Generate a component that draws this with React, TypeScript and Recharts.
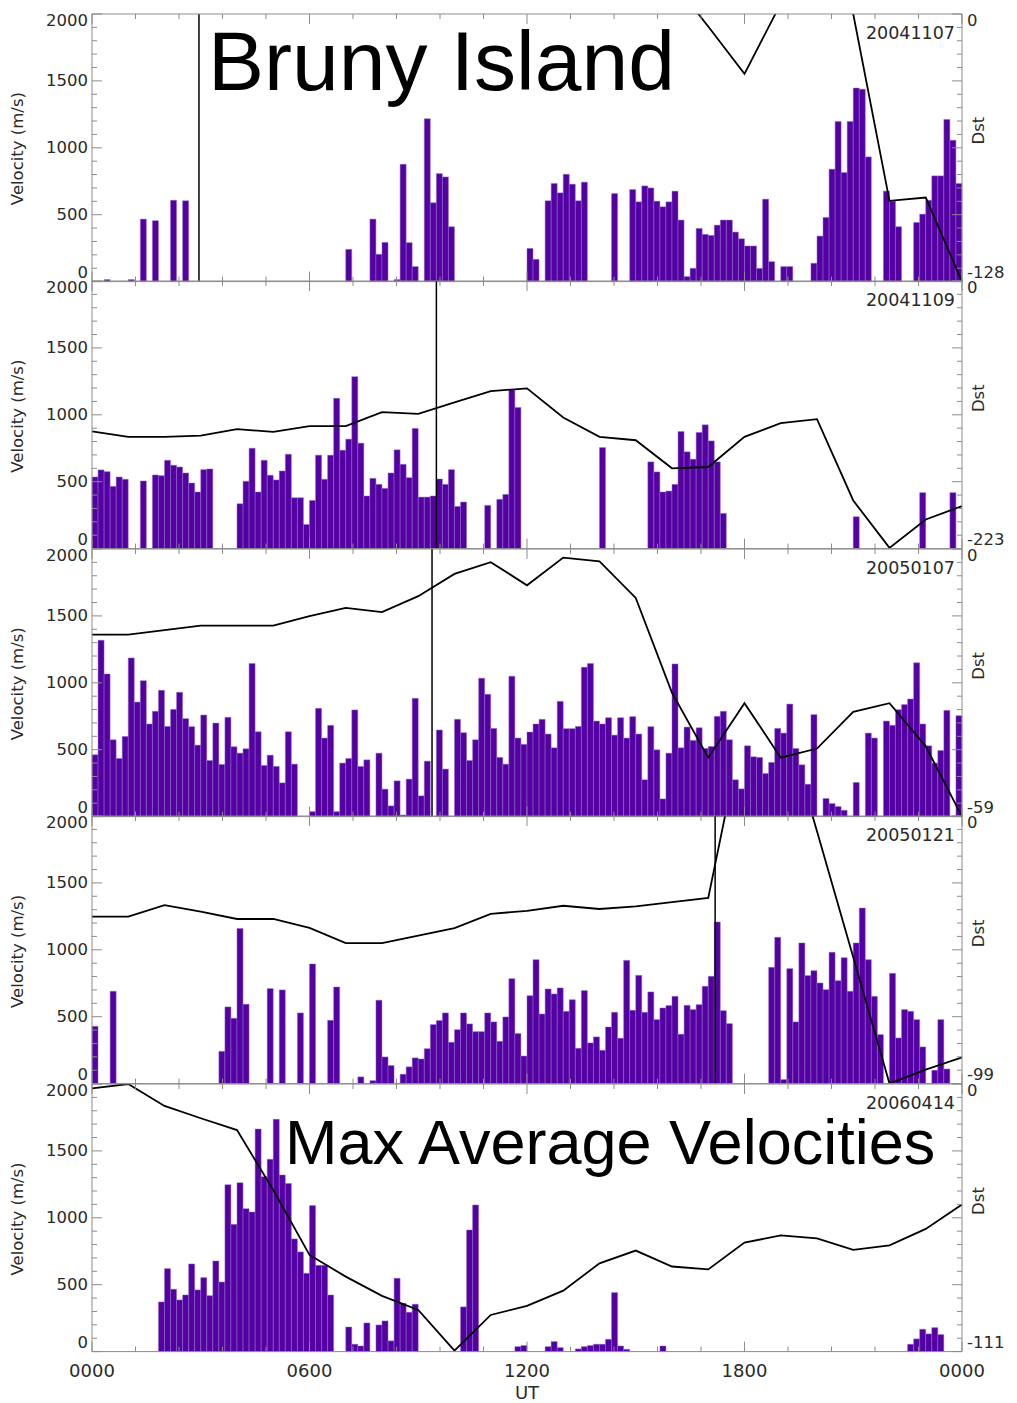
import { ComposedChart, Bar, Line, XAxis, YAxis, ReferenceLine } from 'recharts';

// centre of each 10-minute bin (UT hours) and the hourly Dst times
const binHours = Array.from({ length: 144 }, (_, i) => (i + 0.5) / 6);
const dstHours = Array.from({ length: 25 }, (_, i) => i);

const dates = ['20041107', '20041109', '20050107', '20050121', '20060414'];
const dstFloor = [-128, -223, -59, -99, -111];
const eventUT: (number | null)[] = [2.95, 9.5, 9.38, 17.19, null];
const xTickLabels = ['0000', '0600', '1200', '1800', '0000'];

// max average velocity per 10 minute bin (m/s), 0 = no data
const vel20041107 = [
  0, 0, 15, 0, 0, 0, 15, 0, 467, 0, 455, 0,
  0, 608, 0, 604, 0, 0, 0, 0, 0, 0, 0, 0,
  0, 0, 0, 0, 0, 0, 0, 0, 0, 0, 0, 0,
  0, 0, 0, 0, 0, 0, 241, 0, 0, 0, 467, 204,
  293, 0, 15, 877, 291, 112, 0, 1217, 589, 807, 782, 410,
  0, 0, 0, 0, 0, 0, 0, 0, 0, 0, 0, 0,
  248, 166, 0, 604, 733, 663, 802, 728, 604, 743, 0, 0,
  0, 0, 658, 0, 0, 688, 596, 715, 700, 601, 559, 596,
  676, 460, 37, 99, 397, 353, 345, 422, 460, 460, 370, 320,
  266, 266, 99, 616, 149, 0, 112, 112, 0, 0, 0, 137,
  340, 479, 840, 1197, 815, 1197, 1446, 1438, 932, 0, 0, 676,
  601, 410, 0, 0, 442, 504, 608, 790, 790, 1212, 1056, 733,
];
const vel20041109 = [
  535, 588, 575, 465, 535, 518, 0, 0, 505, 0, 550, 545,
  660, 623, 610, 565, 490, 423, 590, 595, 0, 0, 0, 0,
  335, 503, 750, 423, 660, 548, 513, 580, 705, 380, 380, 180,
  360, 698, 518, 698, 1123, 735, 818, 1285, 788, 393, 525, 480,
  450, 565, 738, 630, 530, 898, 385, 385, 393, 520, 480, 590,
  315, 348, 0, 0, 0, 323, 0, 368, 405, 1185, 1055, 0,
  0, 0, 0, 0, 0, 0, 0, 0, 0, 0, 0, 0,
  755, 0, 0, 0, 0, 0, 0, 0, 648, 573, 423, 430,
  480, 875, 723, 668, 868, 925, 805, 648, 263, 0, 0, 0,
  0, 0, 0, 0, 0, 0, 0, 0, 0, 0, 0, 0,
  0, 0, 0, 0, 0, 0, 238, 0, 0, 0, 0, 0,
  0, 0, 0, 0, 0, 418, 0, 0, 0, 0, 418, 0,
];
const vel20050107 = [
  462, 1318, 1066, 574, 434, 599, 1186, 856, 1016, 692, 787, 944,
  674, 801, 929, 732, 672, 534, 759, 419, 699, 390, 742, 522,
  474, 507, 1144, 634, 382, 459, 375, 252, 634, 392, 0, 0,
  37, 809, 587, 682, 37, 400, 434, 797, 375, 424, 0, 474,
  205, 80, 267, 12, 280, 884, 155, 414, 0, 647, 355, 0,
  727, 627, 419, 574, 1034, 914, 659, 442, 392, 1049, 587, 540,
  632, 692, 727, 617, 514, 861, 657, 657, 674, 1116, 1144, 714,
  692, 739, 609, 739, 587, 747, 617, 275, 672, 499, 132, 474,
  1141, 514, 669, 569, 664, 509, 524, 749, 787, 574, 275, 207,
  529, 447, 442, 322, 405, 659, 624, 841, 509, 387, 242, 762,
  0, 135, 97, 75, 47, 0, 255, 0, 624, 587, 0, 714,
  682, 799, 837, 879, 1149, 692, 529, 400, 494, 794, 0, 754,
];
const vel20050121 = [
  428, 0, 0, 690, 0, 0, 0, 0, 0, 0, 0, 0,
  0, 0, 0, 0, 0, 0, 0, 0, 0, 241, 573, 488,
  1160, 593, 0, 0, 0, 710, 0, 700, 0, 0, 528, 0,
  894, 0, 0, 473, 722, 0, 0, 0, 50, 0, 22, 623,
  199, 135, 0, 70, 125, 192, 184, 261, 441, 471, 528, 309,
  403, 528, 446, 388, 388, 528, 461, 316, 498, 784, 374, 206,
  657, 926, 520, 707, 670, 715, 540, 627, 264, 695, 304, 349,
  249, 423, 533, 339, 921, 548, 809, 533, 685, 478, 565, 583,
  652, 369, 585, 553, 590, 727, 802, 1208, 545, 448, 0, 0,
  0, 0, 0, 0, 869, 1093, 30, 859, 461, 1051, 807, 844,
  752, 702, 981, 769, 941, 690, 1051, 1312, 926, 652, 366, 0,
  824, 341, 553, 540, 478, 274, 0, 100, 478, 109, 0, 0,
];
const vel20060414 = [
  0, 0, 0, 0, 0, 0, 0, 0, 0, 0, 0, 371,
  620, 466, 386, 423, 655, 461, 553, 418, 677, 520, 1247, 951,
  1262, 1068, 1043, 1663, 1307, 1437, 1736, 1320, 1257, 842, 745, 585,
  1091, 645, 645, 423, 0, 0, 184, 55, 42, 214, 0, 199,
  229, 80, 548, 361, 294, 354, 0, 0, 0, 0, 0, 0,
  0, 334, 909, 1096, 0, 0, 0, 0, 0, 0, 37, 45,
  0, 0, 0, 37, 75, 30, 0, 0, 20, 37, 45, 55,
  55, 92, 441, 42, 17, 0, 0, 0, 0, 0, 42, 0,
  0, 0, 0, 0, 0, 0, 0, 0, 0, 0, 0, 0,
  0, 0, 0, 0, 0, 0, 0, 0, 0, 0, 0, 0,
  0, 0, 0, 0, 0, 0, 0, 0, 0, 0, 0, 0,
  0, 0, 0, 55, 95, 167, 132, 179, 127, 0, 0, 0,
];

// hourly Dst (nT), values above 0 run off the top of the panel
const dst20041107 = [8, 10, 12, 14, 16, 18, 20, 22, 24, 22, 20, 18, 20, 22, 20, 18, 16, -6, -28.6, 5, 12, 0, -89.4, -87.8, -128];
const dst20041109 = [-125.4, -129.9, -129.9, -128.8, -123.5, -125.7, -121, -121, -109.3, -110.7, -101.2, -91.7, -89.5, -113.7, -129.9, -132.7, -156.1, -155, -129.9, -118.5, -115.1, -182.9, -222.4, -198.7, -187.6];
const dst20050107 = [-18.9, -18.9, -17.9, -16.9, -16.9, -16.9, -14.8, -13.0, -13.9, -10.4, -5.5, -2.9, -8.0, -1.9, -2.7, -10.8, -31.7, -46.0, -34.0, -46.0, -44.0, -35.9, -34.0, -43.5, -59];
const dst20050121 = [-37.2, -37.2, -33.0, -35.4, -38.1, -38.1, -41.4, -47.0, -47.0, -44.3, -41.5, -36.2, -35.1, -33.2, -34.4, -33.4, -31.9, -30.3, 35, 40, -5.6, -52.3, -99, -93.8, -89.3];
const dst20060414 = [-1.8, 0, -9.1, -14.2, -19.1, -44, -70.9, -79.9, -87.9, -93.7, -110.6, -95.8, -92, -85.7, -74.4, -69.1, -75.7, -76.9, -65.8, -62.8, -64.0, -68.8, -66.9, -60.1, -50.0];

const velocities = [vel20041107, vel20041109, vel20050107, vel20050121, vel20060414];
const dsts = [dst20041107, dst20041109, dst20050107, dst20050121, dst20060414];

const W = 1017;
const PL = 92;
const PR = 962;
const PH = 267.6;
const TOP0 = 13.6;
const PAD = 10;
const AXIS = '#8c8c8c';
const BAR = '#5400a2';
const TICK_FONT = 'DejaVu Sans';
const TEXT = '#2a2a2a';

const velTicks = Array.from({ length: 21 }, (_, i) => i * 100);
const xTicks = Array.from({ length: 21 }, (_, i) => i * 1.2);

function Panel({ idx }: { idx: number }) {
  const last = idx === dates.length - 1;
  const floor = dstFloor[idx];
  const bottom = last ? 60 : PAD;
  const plotBottom = PAD + PH;
  const rows = binHours.map((t, i) => ({ t, v: velocities[idx][i] }));
  const dstRows = dstHours.map((h, i) => ({ h, dst: dsts[idx][i] }));
  const dstTicks = Array.from({ length: 21 }, (_, k) => floor - (floor * k) / 20);
  const ev = eventUT[idx];

  const velTick = (p: any) => {
    const v = p.payload.value;
    const major = v % 500 === 0;
    const dy = v === 2000 ? 7 : v === 0 ? -9 : 0;
    return (
      <g>
        <line x1={PL} x2={PL + (major ? 10 : 5)} y1={p.y} y2={p.y} stroke={AXIS} />
        {major && (
          <text x={PL - 4} y={p.y + dy} textAnchor="end" dominantBaseline="central" fontSize={16.5} fontFamily={TICK_FONT} fill={TEXT}>
            {v}
          </text>
        )}
      </g>
    );
  };

  const dstTick = (p: any) => {
    const k = Math.round(((p.payload.value - floor) / -floor) * 20);
    const major = k % 5 === 0;
    let label: string | null = null;
    let dy = 0;
    if (k === 0) { label = String(floor); dy = -9; }
    if (k === 20) { label = '0'; dy = 7; }
    return (
      <g>
        <line x1={PR - (major ? 10 : 5)} x2={PR} y1={p.y} y2={p.y} stroke={AXIS} />
        {label && (
          <text x={PR + 5} y={p.y + dy} textAnchor="start" dominantBaseline="central" fontSize={16.5} fontFamily={TICK_FONT} fill={TEXT}>
            {label}
          </text>
        )}
      </g>
    );
  };

  const xTickBottom = (p: any) => {
    const k = Math.round(p.payload.value / 1.2);
    const major = k % 5 === 0;
    return (
      <g>
        <line x1={p.x} x2={p.x} y1={plotBottom} y2={plotBottom - (major ? 10 : 5)} stroke={AXIS} />
        {last && major && (
          <text x={p.x} y={plotBottom + 19} textAnchor="middle" dominantBaseline="central" fontSize={18} fontFamily={TICK_FONT} fill={TEXT}>
            {xTickLabels[k / 5]}
          </text>
        )}
      </g>
    );
  };

  const xTickTop = (p: any) => {
    const k = Math.round(p.payload.value / 1.2);
    const major = k % 5 === 0;
    return <line x1={p.x} x2={p.x} y1={PAD} y2={PAD + (major ? 10 : 5)} stroke={AXIS} />;
  };

  return (
    <div style={{ position: 'absolute', left: 0, top: TOP0 + idx * PH - PAD }}>
      <ComposedChart width={W} height={PAD + PH + bottom} data={rows} margin={{ top: PAD - 1, right: 0, bottom: bottom - 1, left: 0 }}>
        <XAxis xAxisId="bar" type="number" dataKey="t" domain={[0, 24]} ticks={xTicks} interval={0} height={1} tickLine={false} axisLine={{ stroke: AXIS }} tick={xTickBottom} />
        <XAxis xAxisId="line" orientation="top" type="number" dataKey="h" domain={[0, 24]} ticks={xTicks} interval={0} height={1} tickLine={false} axisLine={{ stroke: AXIS }} tick={xTickTop} />
        <YAxis yAxisId="v" domain={[0, 2000]} ticks={velTicks} interval={0} width={PL} tickLine={false} axisLine={{ stroke: AXIS }} tick={velTick} />
        <YAxis yAxisId="dst" orientation="right" domain={[floor, 0]} allowDataOverflow ticks={dstTicks} interval={0} width={W - PR} tickLine={false} axisLine={{ stroke: AXIS }} tick={dstTick} />
        <Bar xAxisId="bar" yAxisId="v" dataKey="v" barSize={6} fill={BAR} stroke="#8e6cc6" strokeWidth={0.5} isAnimationActive={false} />
        <Line xAxisId="line" yAxisId="dst" data={dstRows} dataKey="dst" type="linear" stroke="#000" strokeWidth={1.8} dot={false} isAnimationActive={false} />
        {ev != null && <ReferenceLine xAxisId="line" yAxisId="dst" x={ev} stroke="#000" strokeWidth={1.5} />}
      </ComposedChart>
    </div>
  );
}

export default function App() {
  return (
    <div style={{ position: 'absolute', left: 0, top: 0, width: W, height: 1403, background: '#fff', overflow: 'hidden' }}>
      {dates.map((_, i) => (
        <Panel key={i} idx={i} />
      ))}
      <svg width={W} height={1403} style={{ position: 'absolute', left: 0, top: 0, pointerEvents: 'none' }}>
        {dates.map((d, i) => {
          const top = TOP0 + i * PH;
          return (
            <g key={d}>
              <text x={955} y={top + 25} textAnchor="end" fontSize={17.5} fontFamily={TICK_FONT} fill={TEXT}>{d}</text>
              <text transform={`translate(17 ${top + 135}) rotate(-90)`} textAnchor="middle" dominantBaseline="central" fontSize={16.5} fontFamily={TICK_FONT} fill={TEXT}>
                Velocity (m/s)
              </text>
              <text transform={`translate(978 ${top + 117}) rotate(-90)`} textAnchor="middle" dominantBaseline="central" fontSize={16.5} fontFamily={TICK_FONT} fill={TEXT}>
                Dst
              </text>
            </g>
          );
        })}
        <text x={527} y={1392} textAnchor="middle" dominantBaseline="central" fontSize={18} fontFamily={TICK_FONT} fill={TEXT}>UT</text>
        <text x={208} y={90} fontSize={84} fontFamily="Liberation Sans" fill="#000">Bruny Island</text>
        <text x={285} y={1164} fontSize={63} fontFamily="Liberation Sans" fill="#000">Max Average Velocities</text>
      </svg>
    </div>
  );
}
